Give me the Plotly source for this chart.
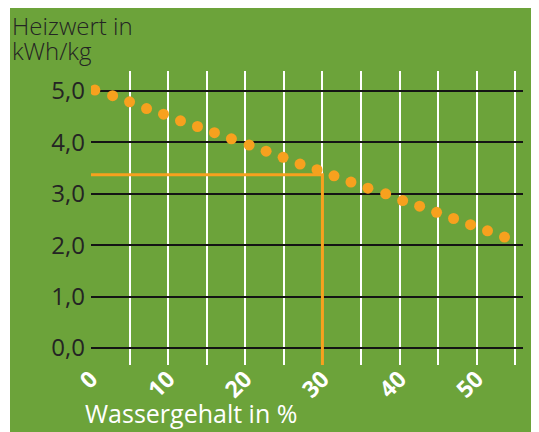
import plotly.graph_objects as go

# Data
wassergehalt = [0.5, 2.8, 5.0, 7.2, 9.4, 11.6, 13.8, 16.0, 18.2, 20.5, 22.7, 24.9,
                27.1, 29.3, 31.5, 33.7, 35.9, 38.2, 40.4, 42.6, 44.8, 47.0, 49.2,
                51.4, 53.6]
heizwert = [5.02, 4.91, 4.79, 4.66, 4.55, 4.42, 4.31, 4.19, 4.07, 3.95, 3.83, 3.71,
            3.58, 3.47, 3.35, 3.23, 3.11, 3.00, 2.87, 2.76, 2.64, 2.52, 2.40,
            2.28, 2.16]
marker_x = [0, 30, 30]
marker_y = [3.37, 3.37, -0.33]
y_ticks = [0, 1, 2, 3, 4, 5]
y_ticklabels = ["0,0", "1,0", "2,0", "3,0", "4,0", "5,0"]
x_ticks = [0, 10, 20, 30, 40, 50]
x_ticklabels = ["0", "10", "20", "30", "40", "50"]

GREEN = "#6ca33a"
ORANGE = "#f7a11e"
DARK = "#242424"
FONT = "Open Sans"

# page is rendered with an 8px body margin; figure sized to fit window
OFF = 8
W, H = 539 - OFF, 432 - OFF
L = 91 - OFF
T = 71 - OFF
R = W - (523 - OFF)
B = H - (365 - OFF)
PW, PH = W - L - R, H - T - B


def px_x(p):  # page pixel -> paper x
    return (p - OFF - L) / PW


def px_y(p):  # page pixel -> paper y
    return (H - B - (p - OFF)) / PH


fig = go.Figure()
fig.add_trace(go.Scatter(x=marker_x, y=marker_y, mode="lines",
                         line=dict(color=ORANGE, width=3), hoverinfo="skip",
                         showlegend=False))
fig.add_trace(go.Scatter(x=wassergehalt, y=heizwert, mode="markers",
                         marker=dict(color=ORANGE, size=11, line=dict(width=0)),
                         showlegend=False))

fig.add_shape(type="rect", xref="paper", yref="paper",
              x0=px_x(10), x1=px_x(600), y0=px_y(500), y1=px_y(8),
              fillcolor=GREEN, line=dict(width=0), layer="below")

fig.add_annotation(text="Heizwert in", xref="paper", yref="paper",
                   x=px_x(10), y=px_y(26), xanchor="left", yanchor="middle",
                   showarrow=False, align="left",
                   font=dict(family=FONT, size=24, color=DARK, weight=300))
fig.add_annotation(text="kWh/kg", xref="paper", yref="paper",
                   x=px_x(10), y=px_y(51), xanchor="left", yanchor="middle",
                   showarrow=False, align="left",
                   font=dict(family=FONT, size=24, color=DARK, weight=300))
fig.add_annotation(text="Wassergehalt in %", xref="paper", yref="paper",
                   x=px_x(83), y=px_y(413), xanchor="left", yanchor="middle",
                   showarrow=False, align="left",
                   font=dict(family=FONT, size=25, color="white", weight=400))

fig.update_xaxes(range=[0, 56], tickvals=x_ticks, ticktext=x_ticklabels,
                 tickangle=-45, showgrid=True, gridcolor="white", gridwidth=2,
                 minor=dict(dtick=5, tick0=0, showgrid=True, gridcolor="white",
                            gridwidth=2),
                 zeroline=False, showline=False, ticks="", ticklabelstandoff=-5,
                 tickfont=dict(family=FONT, size=23, color="white", weight="bold"))
fig.update_yaxes(range=[-0.33, 5.39], tickvals=y_ticks, ticktext=y_ticklabels,
                 showgrid=True, gridcolor="#141414", gridwidth=2,
                 zeroline=False, showline=False, ticks="", ticklabelstandoff=5,
                 tickfont=dict(family=FONT, size=24, color=DARK, weight=400))

fig.update_layout(width=W, height=H,
                  margin=dict(l=L, r=R, t=T, b=B, autoexpand=False),
                  paper_bgcolor="white", plot_bgcolor=GREEN,
                  font=dict(family=FONT), showlegend=False)

fig.write_html("out.html")
